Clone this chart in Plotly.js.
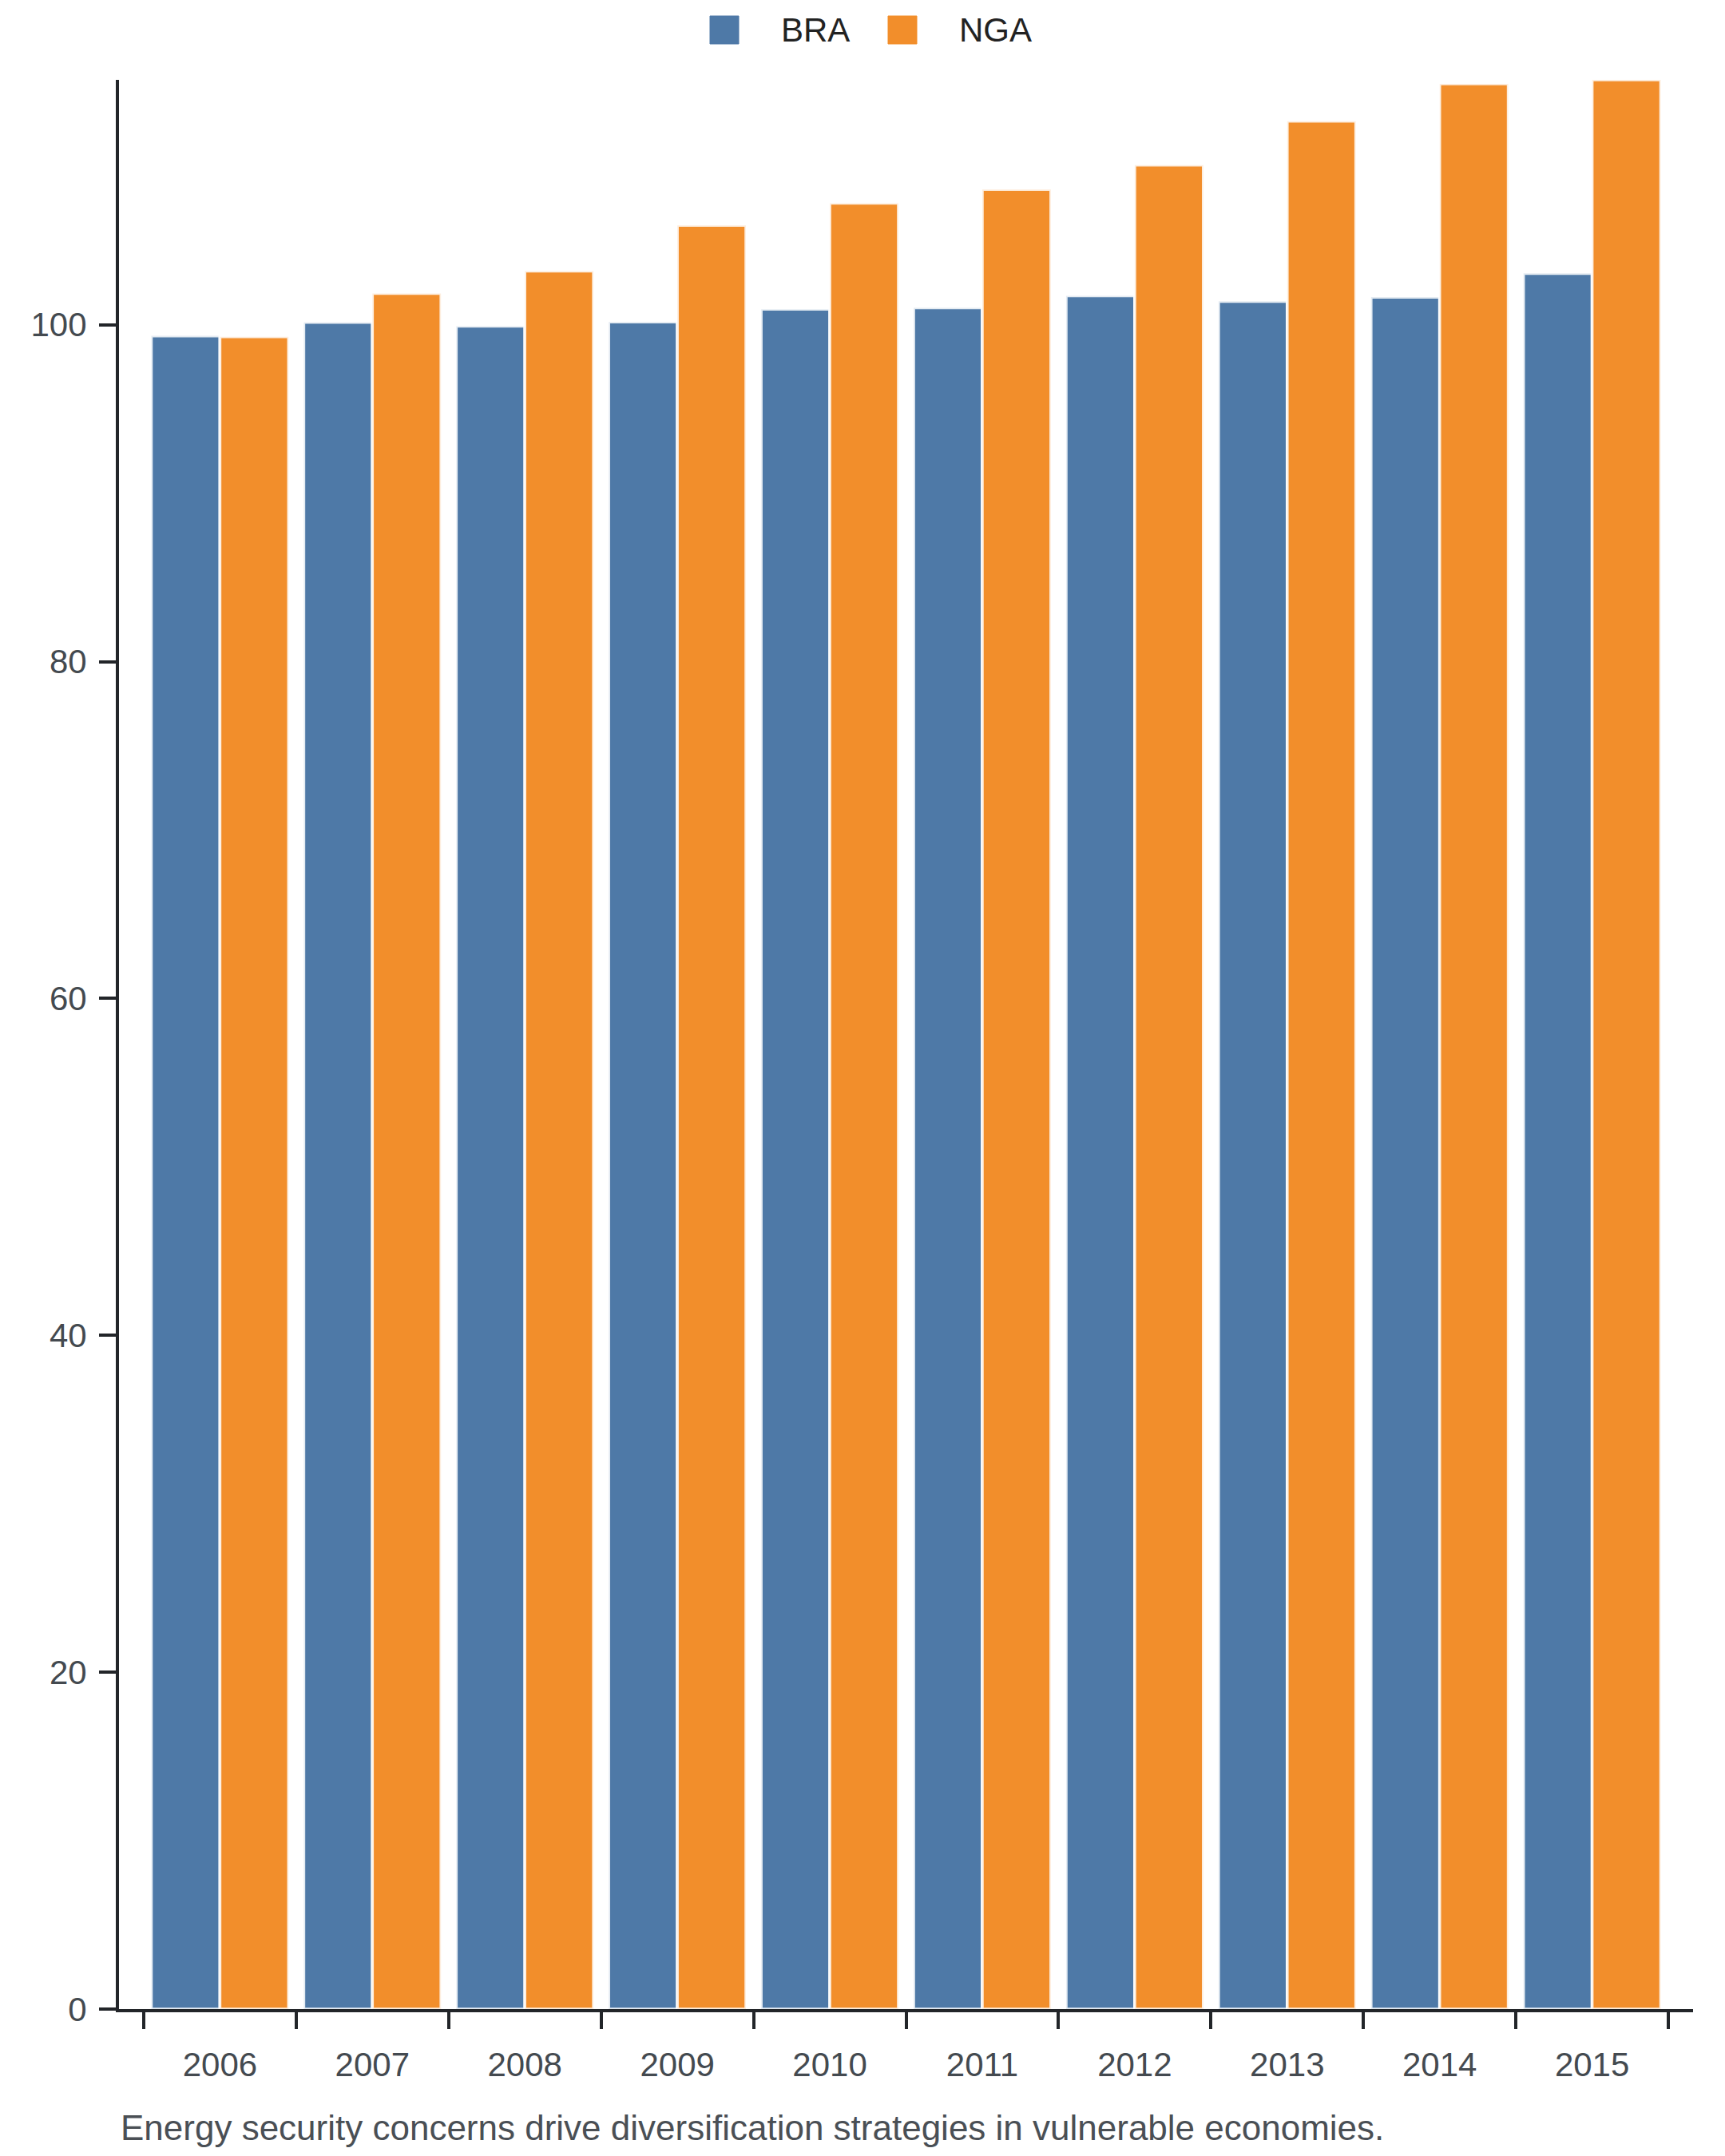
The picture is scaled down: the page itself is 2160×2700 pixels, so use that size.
<!DOCTYPE html>
<html>
<head>
<meta charset="utf-8">
<script src="https://cdn.plot.ly/plotly-3.0.1.min.js"></script>
<style>
  html, body { margin: 0; padding: 0; background: #fff; }
  #chart { width: 2160px; height: 2700px; }
</style>
</head>
<body>
<div id="chart"></div>
<script>
// ─── Data ─────────────────────────────────────────────────────────────────────
const years = ['2006', '2007', '2008', '2009', '2010', '2011', '2012', '2013', '2014', '2015'];
const seriesNames = ['BRA', 'NGA'];
const seriesColors = ['#4e79a7', '#f28e2b'];
const braValues = [99.34, 100.14, 99.92, 100.16, 100.92, 101.01, 101.72, 101.39, 101.64, 103.05];
const ngaValues = [99.29, 101.86, 103.19, 105.90, 107.22, 108.03, 109.48, 112.09, 114.30, 114.54];
const yTicks = [0, 20, 40, 60, 80, 100];
const caption = 'Energy security concerns drive diversification strategies in vulnerable economies.';

// ─── Page geometry (px, the chart is drawn at 3x) ────────────────────────────
const W = 2160, H = 2700;
const M = { l: 149, r: 40, t: 100, b: 184 };
const plotW = W - M.l - M.r;
const plotH = H - M.t - M.b;
const FONT = 'Liberation Sans, Arial, Helvetica, sans-serif';
const AXIS_COLOR = '#222529';
const TEXT_COLOR = '#444a50';

// pixel -> paper helpers, used only for the hand-built legend and caption
const px = x => (x - M.l) / plotW;
const py = y => (H - M.b - y) / plotH;

const traces = [braValues, ngaValues].map((vals, i) => ({
  type: 'bar',
  name: seriesNames[i],
  x: years,
  y: vals,
  marker: { color: seriesColors[i], line: { color: 'rgba(255,255,255,0.85)', width: 3.6 } },
  showlegend: false,
}));

// Legend: 36px squares with labels, centred above the plot
const legendItems = [
  { sq: 889, label: 976 },
  { sq: 1112, label: 1199 },
];
const legendShapes = legendItems.map((it, i) => ({
  type: 'rect',
  xref: 'paper', yref: 'paper',
  x0: px(it.sq), x1: px(it.sq + 36),
  y0: py(55), y1: py(20),
  fillcolor: seriesColors[i],
  line: { color: seriesColors[i], width: 1 },
}));
const legendLabels = legendItems.map((it, i) => ({
  text: seriesNames[i],
  xref: 'paper', yref: 'paper',
  x: px(it.label), xanchor: 'left',
  y: py(37.5), yanchor: 'middle',
  showarrow: false,
  font: { size: 42, color: '#222' },
}));

const axisCommon = {
  ticks: 'outside',
  ticklen: 21,
  tickwidth: 4,
  tickcolor: AXIS_COLOR,
  showline: true,
  linecolor: AXIS_COLOR,
  linewidth: 4,
  showgrid: false,
  zeroline: false,
  tickfont: { size: 42, color: TEXT_COLOR },
};

const layout = {
  width: W,
  height: H,
  paper_bgcolor: '#ffffff',
  plot_bgcolor: '#ffffff',
  font: { family: FONT, size: 42, color: TEXT_COLOR },
  margin: M,
  barmode: 'group',
  bargap: 0.1,
  bargroupgap: 0,
  showlegend: false,
  xaxis: Object.assign({}, axisCommon, {
    type: 'category',
    range: [-0.662, 9.662],
    tickson: 'boundaries',
    ticklabelstandoff: 30,
  }),
  yaxis: Object.assign({}, axisCommon, {
    range: [0, 114.54],
    tickvals: yTicks,
    ticklabelstandoff: 7,
  }),
  shapes: legendShapes,
  annotations: legendLabels.concat([
    {
      text: caption,
      xref: 'paper', yref: 'paper',
      x: 0, xanchor: 'left',
      y: py(2664), yanchor: 'middle',
      showarrow: false,
      font: { size: 44, color: '#4a4f55' },
    },
  ]),
};

Plotly.newPlot('chart', traces, layout, { displayModeBar: false, staticPlot: true });
</script>
</body>
</html>
